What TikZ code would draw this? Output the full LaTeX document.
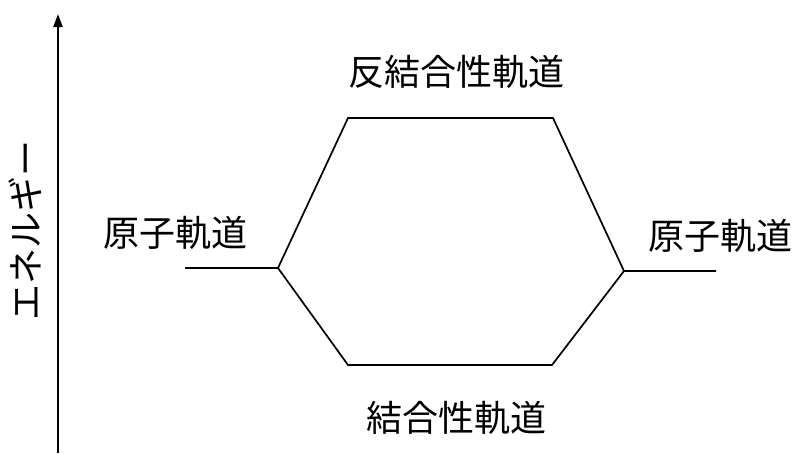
\documentclass[tikz,border=0pt]{standalone}
\usepackage{fontspec}
\newfontfamily\jp{Noto Sans CJK JP}
\usetikzlibrary{arrows.meta}
\begin{document}
\begin{tikzpicture}[x=1pt,y=-1pt,
  lbl/.style={font=\jp\fontsize{36}{40}\selectfont, inner sep=0pt},
  lvl/.style={line width=1.7pt, line join=miter}]
\useasboundingbox (0,0) rectangle (796,453);
\coordinate (ab) at (58,453);
\coordinate (at) at (58,14);
\draw[line width=2.2pt, -{Triangle[length=13pt,width=9pt]}] (ab) -- (at);
\node[lbl, rotate=90] (en) at (25,230) {エネルギー};
\coordinate (l0) at (185,268);
\coordinate (l1) at (278,268);
\coordinate (ta) at (348,118);
\coordinate (tb) at (553,118);
\coordinate (r1) at (624,271);
\coordinate (r0) at (716,271);
\coordinate (ba) at (348,365);
\coordinate (bb) at (552,365);
\draw[lvl] (l0) -- (l1) -- (ta) -- (tb) -- (r1) -- (r0);
\draw[lvl] (l1) -- (ba) -- (bb) -- (r1);
\node[lbl] (anti) at (456,72) {反結合性軌道};
\node[lbl] (bond) at (456,418) {結合性軌道};
\node[lbl] (aol) at (175,233) {原子軌道};
\node[lbl] (aor) at (720,236) {原子軌道};
\end{tikzpicture}
\end{document}
